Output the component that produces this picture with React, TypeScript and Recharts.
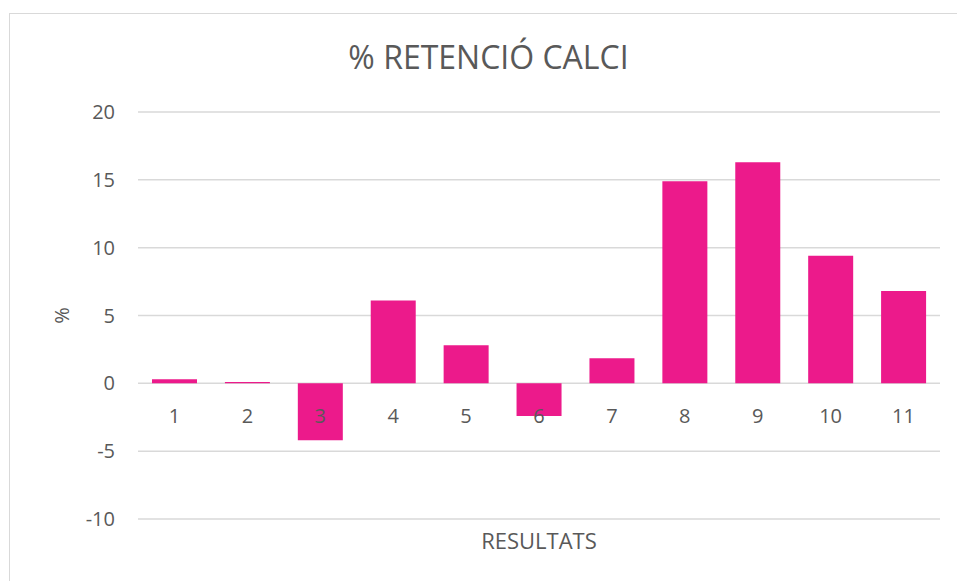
import React from 'react';
import {
  ComposedChart,
  Bar,
  Line,
  XAxis,
  YAxis,
  CartesianGrid,
  LabelList,
  Label
} from 'recharts';

const categories = ['1', '2', '3', '4', '5', '6', '7', '8', '9', '10', '11'];
const retencio = [0.3, 0.1, -4.2, 6.1, 2.8, -2.4, 1.85, 14.9, 16.3, 9.4, 6.8];
const yTicks = [-10, -5, 0, 5, 10, 15, 20];

const data = categories.map((name, i) => ({
  name,
  value: retencio[i],
  base: 0
}));

const TEXT = '#595959';
const GRID = '#D9D9D9';
const PINK = '#EC1A8B';
const FONT = '"Open Sans", sans-serif';

const App: React.FC = () => {
  return (
    <div style={{ position: 'absolute', left: 0, top: 0, width: 957, height: 581, background: '#fff', overflow: 'hidden', fontFamily: FONT }}>
      <div style={{
        position: 'absolute',
        left: 9,
        top: 13,
        width: 960,
        height: 600,
        border: `1px solid ${GRID}`,
        boxSizing: 'border-box'
      }} />
      <div style={{
        position: 'absolute',
        left: 0,
        width: 977,
        top: 35,
        textAlign: 'center',
        fontSize: 32,
        color: TEXT,
        lineHeight: '44px'
      }}>
        % RETENCIÓ CALCI
      </div>
      <div style={{ position: 'absolute', left: 0, top: 0 }}>
        <ComposedChart
          width={957}
          height={581}
          data={data}
          margin={{ top: 112, right: 17, left: 40, bottom: 0 }}
        >
          <CartesianGrid vertical={false} stroke={GRID} strokeWidth={1.5} />
          <XAxis
            dataKey="name"
            tick={false}
            tickLine={false}
            axisLine={false}
            height={62}
          >
            <Label value="RESULTATS" position="insideTop" offset={14} fill={TEXT} fontSize={22} fontFamily={FONT} />
          </XAxis>
          <YAxis
            domain={[-10, 20]}
            ticks={yTicks}
            interval={0}
            width={98}
            tickLine={false}
            axisLine={false}
            tickSize={0}
            tickMargin={23}
            tick={{ fill: TEXT, fontSize: 20, fontFamily: FONT }}
          >
            <Label value="%" angle={-90} position="insideLeft" offset={22} style={{ textAnchor: 'middle' }} fill={TEXT} fontSize={20} fontFamily={FONT} />
          </YAxis>
          <Bar dataKey="value" fill={PINK} barSize={45} isAnimationActive={false} />
          <Line
            dataKey="base"
            stroke="none"
            dot={false}
            activeDot={false}
            isAnimationActive={false}
          >
            <LabelList dataKey="name" position="bottom" offset={25} fill={TEXT} fontSize={20} fontFamily={FONT} />
          </Line>
        </ComposedChart>
      </div>
    </div>
  );
};

export default App;
